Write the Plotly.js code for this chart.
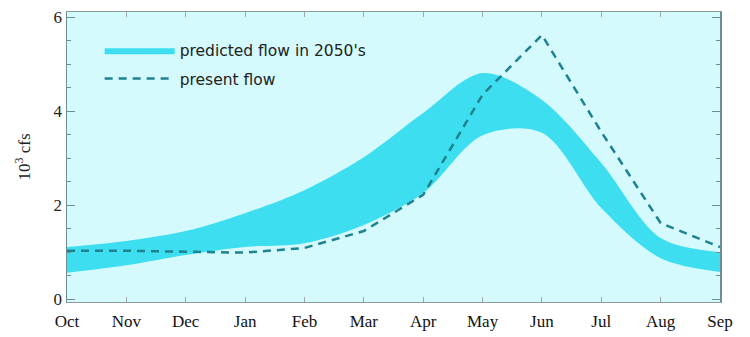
<!DOCTYPE html>
<html>
<head>
<meta charset="utf-8">
<script src="https://cdn.plot.ly/plotly-3.0.1.min.js"></script>
<style>
  html, body { margin: 0; padding: 0; background: #ffffff; }
  #chart { width: 750px; height: 337px; }
</style>
</head>
<body>
<div id="chart"></div>
<script>
// Water year, October through September
const months = ['Oct', 'Nov', 'Dec', 'Jan', 'Feb', 'Mar', 'Apr', 'May', 'Jun', 'Jul', 'Aug', 'Sep'];

// Predicted flow range for the 2050's (10^3 cfs)
const predictedHigh = [1.11, 1.24, 1.45, 1.83, 2.32, 3.02, 3.96, 4.81, 4.24, 2.90, 1.30, 1.00];
const predictedLow  = [0.56, 0.72, 0.94, 1.11, 1.19, 1.58, 2.26, 3.49, 3.54, 1.94, 0.87, 0.58];

// Present flow (10^3 cfs)
const presentFlow = [1.03, 1.03, 1.01, 0.99, 1.09, 1.45, 2.22, 4.35, 5.62, 3.56, 1.62, 1.11];

const bandColor = '#3cdef0';
const lineColor = '#1e8291';
const serif = 'Liberation Serif, Times New Roman, serif';
const sans = 'DejaVu Sans, Arial, sans-serif';

const traces = [
  {
    x: months, y: predictedLow,
    type: 'scatter', mode: 'lines',
    line: { width: 0, shape: 'spline', smoothing: 0.9, color: bandColor },
    showlegend: false, hoverinfo: 'skip'
  },
  {
    x: months, y: predictedHigh,
    type: 'scatter', mode: 'lines',
    name: "predicted flow in 2050's",
    legendgroup: 'a',
    fill: 'tonexty', fillcolor: bandColor,
    line: { width: 0, shape: 'spline', smoothing: 0.9, color: bandColor }
  },
  {
    x: months, y: presentFlow,
    type: 'scatter', mode: 'lines',
    name: 'present flow',
    legendgroup: 'b',
    line: { color: lineColor, width: 2.5, dash: '8px,6px' }
  }
];

const layout = {
  width: 750, height: 337,
  margin: { l: 67, r: 30, t: 12, b: 35 },
  paper_bgcolor: '#ffffff',
  plot_bgcolor: '#d4fafd',
  showlegend: true,
  legend: {
    x: 0.05, y: 0.925, xanchor: 'left', yanchor: 'top',
    bgcolor: 'rgba(0,0,0,0)',
    font: { family: sans, size: 15.5, color: '#222222' },
    itemwidth: 70,
    tracegroupgap: 5
  },
  xaxis: {
    type: 'category',
    range: [0, 11],
    showgrid: false, zeroline: false,
    showline: true, linecolor: '#8a9a9c', linewidth: 1,
    mirror: 'ticks',
    ticks: 'inside', ticklen: 5, tickcolor: '#9aa8aa',
    ticklabelstandoff: 4,
    tickfont: { family: serif, size: 17, color: '#111111' },
    fixedrange: true
  },
  yaxis: {
    range: [-0.06, 6.11],
    tickvals: [0, 2, 4, 6],
    showgrid: false, zeroline: false,
    showline: true, linecolor: '#6f8d92', linewidth: 1.5,
    mirror: 'ticks',
    ticks: 'inside', ticklen: 8, tickcolor: '#6f8d92',
    minor: { dtick: 0.5, ticks: 'inside', ticklen: 4, tickcolor: '#6f8d92' },
    tickfont: { family: serif, size: 17, color: '#222222' },
    title: { text: '10<sup>3</sup> cfs', font: { family: serif, size: 17, color: '#222222' }, standoff: 18 },
    fixedrange: true
  }
};

Plotly.newPlot('chart', traces, layout, { displayModeBar: false, staticPlot: true });
</script>
</body>
</html>
